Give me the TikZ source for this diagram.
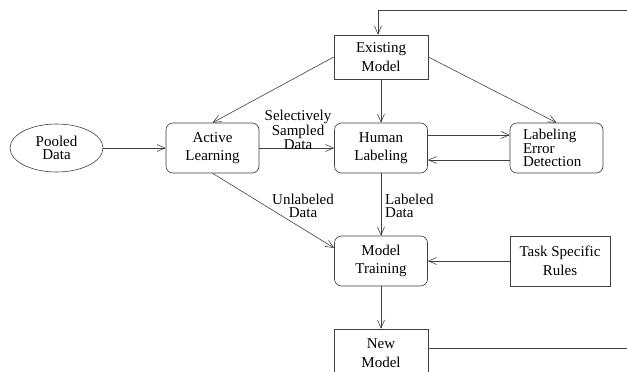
\documentclass[tikz,border=0pt]{standalone}
\usepackage{fontspec}
\setmainfont{Liberation Serif}
\usetikzlibrary{arrows.meta,shapes.geometric,positioning}
\tikzset{
  every picture/.style={x=1pt,y=-1pt},
  conn/.style={draw=black!75,line width=0.6pt,-{Straight Barb[length=8pt,width=7pt]}},
  plain/.style={draw=black!75,line width=0.6pt},
  nfont/.style={font=\fontsize{15}{18.5}\selectfont},
  tfont/.style={font=\fontsize{15}{13}\selectfont},
  rbox/.style={draw=black!75,line width=0.6pt,rounded corners=7pt,minimum width=93pt,minimum height=50pt,inner sep=0pt,align=center,nfont},
  sbox/.style={draw=black!75,line width=0.6pt,minimum width=94pt,minimum height=44pt,inner sep=0pt,align=center,nfont},
  lbl/.style={inner sep=0pt,align=center,tfont}
}
\begin{document}
\begin{tikzpicture}
\useasboundingbox (0,0) rectangle (627,372);
\clip (0,0) rectangle (627,372);
\fill[white] (0,0) rectangle (627,372);
% nodes
\node[sbox] (em) at (381,57) {Existing\\Model};
\node[draw=black!75,line width=0.6pt,ellipse,minimum width=93pt,minimum height=48pt,inner sep=0pt,align=center,tfont] (pd) at (56.5,148) {Pooled\\Data};
\node[rbox] (al) at (212.5,148) {Active\\Learning};
\node[rbox] (hl) at (381,148) {Human\\Labeling};
\node[rbox,align=left,tfont,text width=67pt,inner xsep=13pt] (led) at (556.5,148) {Labeling\\Error\\Detection};
\node[rbox] (mt) at (381,261) {Model\\Training};
\node[sbox,minimum width=100pt,minimum height=50pt] (tsr) at (560,261) {Task Specific\\Rules};
\node[sbox,minimum height=48pt] (nm) at (381,353) {New\\Model};
\coordinate (tr) at (627,10.7);
\coordinate (tc) at (378,10.7);
\coordinate (br) at (627,348);
% connectors
\draw[conn] (tr) -- (tc) -- (tc |- em.north);
\draw[conn] (em.west) -- (al.north);
\draw[conn] (em.east) -- (led.north);
\draw[conn] (em.south) -- (hl.north);
\draw[conn] (pd.east) -- (al.west);
\draw[conn] (al.east) -- (hl.west);
\draw[conn] ([yshift=13pt]hl.east) -- ([yshift=13pt]led.west);
\draw[conn] ([yshift=-12pt]led.west) -- ([yshift=-12pt]hl.east);
\draw[conn] (al.south) -- ([yshift=13pt]mt.west);
\draw[conn] (hl.south) -- (mt.north);
\draw[conn] (tsr.west) -- (mt.east);
\draw[conn] (mt.south) -- (nm.north);
\draw[plain] (nm.east |- br) -- (br);
% labels
\node[lbl] (lss) at (298,130) {Selectively\\Sampled\\Data};
\node[lbl] (lun) at (303,206) {Unlabeled\\Data};
\node[lbl,align=left,anchor=west] (llab) at (385,206) {Labeled\\Data};
\end{tikzpicture}
\end{document}
